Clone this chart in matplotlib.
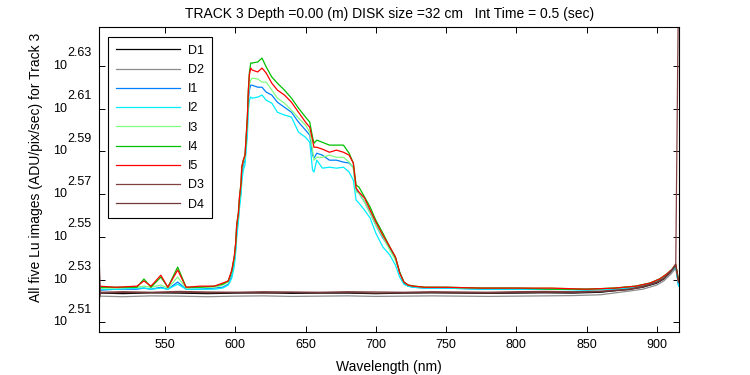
import matplotlib
matplotlib.use("Agg")
import matplotlib.pyplot as plt
import matplotlib.transforms as mtransforms
from matplotlib.ticker import FixedLocator, NullLocator, NullFormatter

plt.rcParams["font.family"] = ["Liberation Sans", "DejaVu Sans"]
plt.rcParams["font.size"] = 9

# wavelength grid for the five illuminated images
wavelength = [503, 515, 530, 535, 540, 547, 552, 559, 565, 575,
              585, 591, 595, 597.5, 599.3, 600.3, 601, 602.2, 603, 604.1,
              604.6, 605.7, 606.9, 607.6, 608.6, 609.3, 610, 611, 612, 616,
              619, 622, 626, 630, 635, 640, 645, 650, 653, 655,
              656, 658, 662, 667, 672, 677, 681, 684, 686, 688,
              692, 696, 700, 705, 710, 714, 717, 720, 723, 727,
              735, 750, 775, 800, 825, 850, 870, 885, 895, 902,
              907, 911, 913.5, 915.5]

i1 = [335.0, 335.4, 335.4, 335.8, 335.4, 336.1, 335.4, 338.0, 335.4, 335.4,
      335.8, 336.1, 337.2, 340.5, 345.3, 350.6, 356.8, 362.1, 368.0, 373.2,
      379.3, 383.4, 385.4, 390.8, 400.2, 411.1, 415.6, 417.8, 417.8, 416.9,
      416.9, 414.7, 413.4, 410.2, 408.0, 405.8, 401.5, 398.1, 395.9, 387.5,
      386.2, 388.3, 387.5, 385.4, 385.4, 384.6, 384.2, 382.5, 373.2, 372.0,
      368.4, 364.1, 359.4, 354.4, 350.6, 346.8, 341.6, 337.6, 336.5, 336.1,
      335.8, 335.8, 335.4, 335.4, 335.4, 335.4, 335.4, 336.1, 337.2, 338.7,
      340.5, 342.4, 343.9, 336.9]

i2 = [335.4, 335.4, 335.8, 335.8, 335.4, 335.8, 335.4, 337.2, 335.4, 335.4,
      335.4, 335.8, 336.9, 339.4, 343.9, 349.1, 354.4, 360.6, 366.0, 371.2,
      376.4, 381.3, 383.4, 388.7, 395.9, 406.7, 411.1, 412.5, 412.0, 412.5,
      413.4, 411.1, 409.8, 405.8, 404.6, 403.7, 397.2, 395.0, 392.9, 381.3,
      380.5, 385.4, 382.1, 382.5, 382.1, 382.5, 380.5, 377.2, 369.2, 368.0,
      365.2, 362.1, 356.3, 351.0, 348.0, 344.2, 339.8, 337.2, 336.5, 336.1,
      335.8, 335.8, 335.4, 335.4, 335.4, 335.0, 335.4, 336.1, 337.2, 338.7,
      340.5, 342.4, 343.9, 336.5]

i3 = [335.8, 335.8, 336.1, 336.5, 336.1, 336.9, 335.8, 339.8, 335.8, 336.1,
      336.1, 336.9, 338.0, 341.6, 346.8, 351.8, 358.7, 363.3, 369.2, 374.8,
      381.3, 384.6, 386.6, 392.5, 402.4, 413.4, 417.8, 420.1, 421.0, 420.6,
      419.2, 419.2, 415.6, 412.0, 409.8, 406.7, 403.3, 400.2, 397.2, 389.6,
      385.4, 386.6, 386.6, 387.5, 386.6, 386.6, 384.6, 382.1, 372.4, 372.0,
      368.4, 364.1, 359.4, 354.8, 349.8, 346.1, 341.6, 338.0, 336.9, 336.5,
      336.1, 336.1, 335.8, 335.8, 335.8, 335.4, 335.8, 336.5, 337.6, 339.1,
      340.9, 342.7, 344.2, 338.4]

i4 = [336.1, 336.1, 336.1, 339.1, 336.1, 339.8, 336.1, 343.5, 336.1, 336.1,
      336.5, 337.2, 338.4, 342.0, 347.2, 352.5, 359.4, 364.1, 370.4, 376.0,
      382.5, 385.4, 387.5, 393.8, 403.7, 415.6, 423.3, 427.9, 427.9, 428.4,
      430.2, 426.1, 421.5, 418.7, 415.6, 412.0, 407.6, 403.7, 401.5, 395.0,
      392.5, 393.8, 392.9, 391.7, 391.7, 391.7, 388.3, 384.2, 375.2, 374.4,
      370.4, 366.4, 361.3, 356.3, 351.0, 347.2, 341.6, 338.0, 336.9, 336.5,
      336.1, 336.1, 335.8, 335.8, 335.4, 335.4, 335.8, 336.5, 337.6, 339.1,
      340.9, 342.7, 344.2, 338.7]

i5 = [336.5, 336.1, 336.5, 338.4, 336.5, 340.5, 336.1, 342.4, 336.1, 336.5,
      336.5, 337.6, 338.4, 342.4, 347.6, 352.5, 359.4, 364.1, 370.4, 376.0,
      382.5, 385.4, 387.5, 393.8, 403.7, 415.6, 422.4, 425.6, 424.7, 423.8,
      425.6, 423.3, 418.7, 415.6, 413.4, 410.2, 405.8, 401.5, 399.3, 393.8,
      390.8, 390.8, 390.0, 388.7, 389.6, 388.7, 387.5, 384.2, 374.0, 372.4,
      370.0, 365.2, 360.6, 355.5, 351.0, 347.2, 341.3, 338.0, 336.9, 336.5,
      336.1, 336.1, 335.8, 335.8, 335.8, 335.4, 335.8, 336.5, 337.6, 339.1,
      340.9, 342.7, 344.6, 338.0]

# wavelength grid for the dark images
wavelength_dark = [503, 504, 520, 540, 560, 580, 600, 620, 640, 660,
                   680, 700, 720, 740, 760, 780, 800, 820, 840, 860,
                   880, 890, 900, 905, 910, 913.5, 915.5]

d1 = [333.2, 334.0, 333.8, 334.1, 334.0, 333.8, 334.0, 334.1, 333.9, 334.0,
      334.0, 333.8, 334.0, 334.1, 334.0, 333.9, 334.0, 334.1, 334.0, 334.3,
      335.4, 336.1, 337.6, 339.1, 341.6, 343.9, 337.6]
d2 = [332.9, 332.9, 332.7, 333.0, 332.9, 332.7, 332.9, 333.0, 332.8, 332.9,
      333.0, 332.8, 332.9, 333.0, 332.9, 332.8, 332.9, 333.0, 333.1, 333.4,
      334.7, 335.4, 336.9, 338.4, 340.9, 343.1, 336.9]
d3 = [347.2, 334.3, 334.5, 334.3, 334.6, 334.4, 334.3, 334.5, 334.4, 334.3,
      334.5, 334.4, 334.3, 334.5, 334.4, 334.3, 334.5, 334.6, 334.5, 334.7,
      335.4, 336.5, 338.0, 339.4, 342.0, 344.6, 470.0]
d4 = [331.1, 334.0, 334.2, 334.1, 334.3, 334.1, 334.2, 334.0, 334.2, 334.1,
      334.2, 334.0, 334.1, 334.2, 334.1, 334.0, 334.2, 334.3, 334.2, 334.5,
      335.2, 336.2, 337.8, 339.2, 341.8, 344.3, 338.0]

series = [
    ("D1", wavelength_dark, d1, "#000000"),
    ("D2", wavelength_dark, d2, "#8c8c8c"),
    ("I1", wavelength, i1, "#0080ff"),
    ("I2", wavelength, i2, "#00eeff"),
    ("I3", wavelength, i3, "#80ff80"),
    ("I4", wavelength, i4, "#00c000"),
    ("I5", wavelength, i5, "#ff0000"),
    ("D3", wavelength_dark, d3, "#804040"),
    ("D4", wavelength_dark, d4, "#703838"),
]

ytick_exps = [2.51, 2.53, 2.55, 2.57, 2.59, 2.61, 2.63]
xticks = [550, 600, 650, 700, 750, 800, 850, 900]

fig = plt.figure(figsize=(7.5, 3.75), dpi=100)
ax = fig.add_axes([0.132, 0.1155, 0.7737, 0.8112])

for name, x, y, col in series:
    ax.plot(x, y, color=col, lw=0.9, label=name)

ax.set_yscale("log")
ax.set_xlim(503, 916)
ax.set_ylim(320.4, 444.6)

ax.xaxis.set_major_locator(FixedLocator(xticks))
ax.yaxis.set_major_locator(FixedLocator([10 ** e for e in ytick_exps]))
ax.yaxis.set_minor_locator(NullLocator())
ax.yaxis.set_major_formatter(NullFormatter())
ax.yaxis.set_minor_formatter(NullFormatter())
ax.tick_params(direction="in", top=True, right=True, length=4.3, width=0.7,
               labelsize=9, pad=5)
for sp in ax.spines.values():
    sp.set_linewidth(0.8)

# MATLAB style "10^2.xx" tick labels
base_tr = mtransforms.blended_transform_factory(fig.transFigure, ax.transData)
sup_tr = mtransforms.offset_copy(base_tr, fig=fig, x=0, y=12.5, units="dots")
for e in ytick_exps:
    ax.text(53 / 750, 10 ** e, "10", transform=base_tr, ha="left", va="center",
            fontsize=9)
    ax.text(67 / 750, 10 ** e, "%.2f" % e, transform=sup_tr, ha="left",
            va="center", fontsize=9)

ax.set_xlabel("Wavelength (nm)", fontsize=10, labelpad=7)
ax.set_ylabel("All five Lu images (ADU/pix/sec) for Track 3", fontsize=10)
ax.yaxis.set_label_coords(-0.0965, 0.54)
ax.set_title("TRACK 3 Depth =0.00 (m) DISK size =32 cm   Int Time = 0.5 (sec)",
             fontsize=10, pad=7)

leg = ax.legend(loc="upper left", bbox_to_anchor=(0.016, 0.968),
                borderaxespad=0, fontsize=9, handlelength=5.1,
                handletextpad=0.7, labelspacing=0.58, borderpad=0.6,
                fancybox=False, framealpha=1)
leg.get_frame().set_edgecolor("black")
leg.get_frame().set_linewidth(0.8)

plt.savefig("out.png", dpi=100)
plt.close(fig)
